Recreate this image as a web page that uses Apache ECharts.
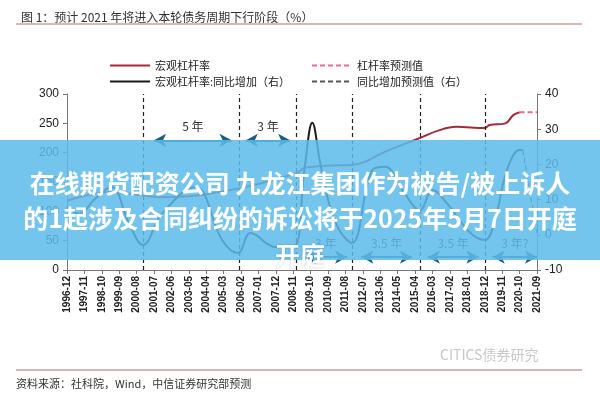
<!DOCTYPE html>
<html>
<head>
<meta charset="utf-8">
<script src="https://cdn.jsdelivr.net/npm/echarts@6/dist/echarts.min.js"></script>
<style>html,body{margin:0;padding:0;background:#fff}#chart{width:600px;height:400px}</style>
</head>
<body>
<div id="chart"></div>
<script>
// 月度类目 1996-12 ~ 2021-09
var months = [];
for (var y = 1996, m = 12; y * 100 + m <= 202109; ) {
    months.push(y + '-' + (m < 10 ? '0' + m : m));
    m++; if (m > 12) { m = 1; y++; }
}

// 宏观杠杆率（左）
var leverage = [
    ['1996-12', 118], ['1999-04', 133], ['2001-12', 124], ['2005-07', 136],
    ['2009-01', 165], ['2009-06', 174], ['2010-11', 178], ['2011-12', 179],
    ['2013-11', 204], ['2015-07', 225], ['2016-07', 238], ['2017-06', 244],
    ['2018-12', 242], ['2019-03', 247], ['2020-01', 250], ['2020-06', 264],
    ['2020-10', 269]
];
var leverageForecast = [['2020-10', 269], ['2021-09', 269]];

// 同比增加（右）
var yoy = [
    ['1996-12', 8], ['1997-08', 6], ['1998-05', 9.9], ['1999-04', 13.6],
    ['2000-03', 3.4], ['2000-12', -2.9], ['2001-12', 6], ['2003-09', 13.6],
    ['2005-02', -1.5], ['2005-12', -5.2], ['2006-08', 0.5], ['2007-12', -3.5],
    ['2008-11', -3.5], ['2009-06', 18.4], ['2009-11', 31.8], ['2010-04', 20.4],
    ['2010-09', 9.9], ['2011-04', 1.4], ['2011-12', -2.3], ['2013-01', 18.4],
    ['2013-09', 19.3], ['2014-08', 12.7], ['2015-07', 7], ['2016-03', 12.7],
    ['2016-12', 9], ['2018-03', 0.5], ['2018-12', -1.5], ['2019-06', 3.4],
    ['2020-02', 18.4], ['2020-10', 24.1], ['2020-12', 24.1]
];
var yoyForecast = [['2020-12', 24.1], ['2021-09', 0.5]];

// 周期分界线
var cycleLines = ['2000-12', '2006-01', '2009-01', '2011-12', '2015-07', '2018-12'];
// 周期长度箭头 [起, 止, 高度(左轴), 文字]
var cycleArrows = [
    ['2001-07', '2005-08', 221, '5 年'],
    ['2006-05', '2008-09', 221, '3 年'],
    ['2009-06', '2011-09', 22, '3 年'],
    ['2012-06', '2015-02', 22, '3.5 年'],
    ['2015-12', '2018-08', 22, '3.5 年'],
    ['2019-05', '2021-09', 22, '3 年?']
];

var chart = echarts.init(document.getElementById('chart'));
var axisGrey = '#777';
var arrowColor = '#1d5f80';

chart.setOption({
    animation: false,
    textStyle: {fontFamily: 'Noto Sans CJK SC'},
    title: {
        text: '图 1：预计 2021 年将进入本轮债务周期下行阶段（%）',
        left: 16, top: 6,
        textStyle: {fontSize: 12, fontWeight: 'normal', color: '#333'}
    },
    legend: [{
        left: 104, top: 55, orient: 'vertical', itemGap: 5,
        itemWidth: 40, itemHeight: 10, itemStyle: {opacity: 0},
        textStyle: {fontSize: 11, color: '#222'},
        data: ['宏观杠杆率', '宏观杠杆率:同比增加（右）']
    }, {
        left: 306, top: 55, orient: 'vertical', itemGap: 5,
        itemWidth: 40, itemHeight: 10, itemStyle: {opacity: 0},
        textStyle: {fontSize: 11, color: '#222'},
        data: ['杠杆率预测值', '同比增加预测值（右）']
    }],
    grid: {left: 67, right: 63, top: 94, bottom: 130},
    xAxis: {
        type: 'category', data: months, boundaryGap: false,
        axisLine: {lineStyle: {color: axisGrey}},
        axisTick: {interval: 10, length: 4, lineStyle: {color: axisGrey}},
        axisLabel: {interval: 10, rotate: 90, fontSize: 10, color: '#222', fontFamily: 'Liberation Sans', fontWeight: 'bold', margin: 6}
    },
    yAxis: [{
        type: 'value', min: 0, max: 300, interval: 50,
        splitLine: {show: false},
        axisLine: {show: true, lineStyle: {color: axisGrey}},
        axisTick: {show: true, length: 4},
        axisLabel: {fontSize: 12, color: '#222', fontFamily: 'Liberation Sans'}
    }, {
        type: 'value', min: -10, max: 40, interval: 10,
        splitLine: {show: false},
        axisLine: {show: true, lineStyle: {color: axisGrey}},
        axisTick: {show: true, length: 4},
        axisLabel: {fontSize: 12, color: '#222', fontFamily: 'Liberation Sans'}
    }],
    series: [{
        name: '宏观杠杆率', type: 'line', smooth: 0.4, symbol: 'none',
        data: leverage,
        lineStyle: {color: '#a8283a', width: 2}, itemStyle: {color: '#a8283a'},
        markLine: {
            silent: true, symbol: 'none', label: {show: false},
            lineStyle: {color: '#222', type: [4, 3], width: 1.2},
            data: cycleLines.map(function (c) { return {xAxis: c}; })
        }
    }, {
        name: '杠杆率预测值', type: 'line', symbol: 'none',
        data: leverageForecast,
        lineStyle: {color: '#e0708a', width: 2, type: [5, 3]}, itemStyle: {color: '#e0708a'}
    }, {
        name: '宏观杠杆率:同比增加（右）', type: 'line', yAxisIndex: 1, smooth: 0.4, symbol: 'none',
        data: yoy,
        lineStyle: {color: '#1b1b1b', width: 2}, itemStyle: {color: '#1b1b1b'}
    }, {
        name: '同比增加预测值（右）', type: 'line', yAxisIndex: 1, symbol: 'none',
        data: yoyForecast,
        lineStyle: {color: '#555', width: 1.5, type: [5, 3]}, itemStyle: {color: '#555'}
    }, {
        name: 'arrows', type: 'line', data: [], symbol: 'none',
        markLine: {
            silent: true, symbol: ['arrow', 'arrow'], symbolSize: [10, 12],
            lineStyle: {color: arrowColor, type: 'solid', width: 2},
            label: {position: 'middle', color: '#333', fontSize: 12, distance: 8},
            data: cycleArrows.map(function (a) {
                return [{coord: [a[0], a[2]], name: a[3], label: {formatter: a[3]}}, {coord: [a[1], a[2]]}];
            })
        }
    }],
    graphic: [{
        type: 'line', shape: {x1: 16, y1: 24, x2: 582, y2: 24},
        style: {stroke: '#c9a0a0', lineWidth: 1.5}
    }, {
        type: 'text', left: 440, top: 348,
        style: {text: 'CITICS债券研究', fill: '#c8c8c8', font: '14px "Noto Sans CJK SC"'}
    }, {
        type: 'line', shape: {x1: 16, y1: 370, x2: 582, y2: 370},
        style: {stroke: '#c9a0a0', lineWidth: 1.5}
    }, {
        type: 'text', left: 16, top: 378,
        style: {text: '资料来源：社科院，Wind，中信证券研究部预测', fill: '#333', font: '11px "Noto Sans CJK SC"'}
    }, {
        type: 'rect', shape: {x: 0, y: 140, width: 600, height: 120},
        style: {fill: 'rgba(92,188,234,0.86)'}, z: 100
    }, {
        type: 'text', x: 300, y: 183, z: 101,
        style: {text: '在线期货配资公司 九龙江集团作为被告/被上诉人', fill: '#fff', align: 'center', verticalAlign: 'middle', font: 'bold 25px "Noto Sans CJK SC"'}
    }, {
        type: 'text', x: 300, y: 218, z: 101,
        style: {text: '的1起涉及合同纠纷的诉讼将于2025年5月7日开庭', fill: '#fff', align: 'center', verticalAlign: 'middle', font: 'bold 25px "Noto Sans CJK SC"'}
    }, {
        type: 'text', x: 300, y: 255, z: 101,
        style: {text: '开庭', fill: '#fff', align: 'center', verticalAlign: 'middle', font: 'bold 25px "Noto Sans CJK SC"', textShadowColor: 'rgba(0,0,0,0.25)', textShadowBlur: 2}
    }]
});
</script>
</body>
</html>
